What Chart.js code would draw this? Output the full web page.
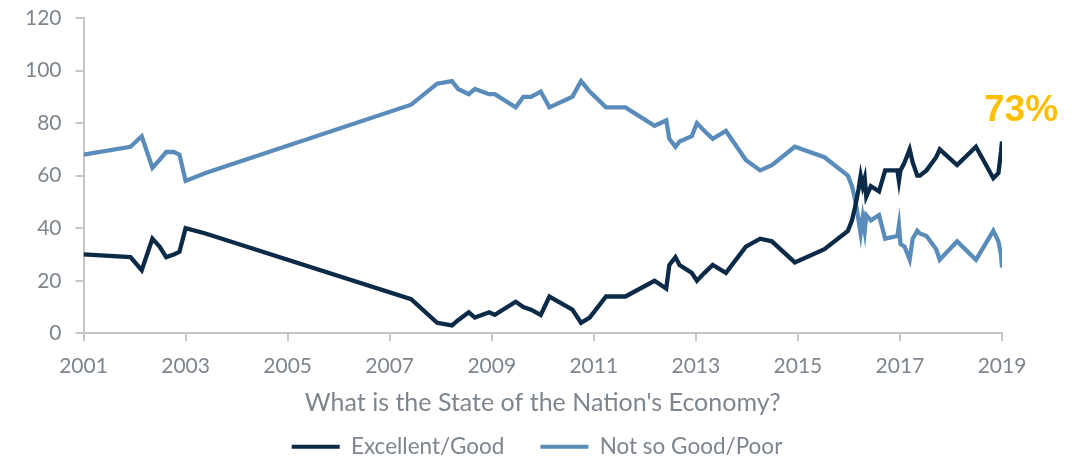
<!DOCTYPE html>
<html>
<head>
<meta charset="utf-8">
<script src="https://cdn.jsdelivr.net/npm/chart.js@4/dist/chart.umd.min.js"></script>
<style>
  html, body { margin: 0; padding: 0; background: #fff; }
  #wrap { width: 1074px; height: 457px; }
</style>
</head>
<body>
<div id="wrap"><canvas id="chart"></canvas></div>
<script>
// poll dates (decimal years) and shares in percent
const dates = [
  2001.0, 2001.92, 2002.14, 2002.35, 2002.49, 2002.62, 2002.77, 2002.88, 2003.0, 2003.39,
  2007.42, 2007.93, 2008.22, 2008.34, 2008.55, 2008.67, 2008.95, 2009.06, 2009.47, 2009.62,
  2009.77, 2009.96, 2010.13, 2010.58, 2010.75, 2010.92, 2011.24, 2011.62, 2012.19, 2012.42,
  2012.48, 2012.6, 2012.68, 2012.92, 2013.02, 2013.17, 2013.33, 2013.59, 2013.98, 2014.26,
  2014.49, 2014.94, 2015.52, 2015.98, 2016.06, 2016.12, 2016.19, 2016.23, 2016.27, 2016.31,
  2016.34, 2016.43, 2016.59, 2016.71, 2016.95, 2016.98, 2017.01, 2017.09, 2017.19, 2017.25,
  2017.34, 2017.39, 2017.52, 2017.71, 2017.78, 2018.12, 2018.49, 2018.83, 2018.93, 2018.98,
  2019.0
]
const excellentGood = [
  30, 29, 24, 36, 33, 29, 30, 31, 40, 38,
  13, 4, 3, 5, 8, 6, 8, 7, 12, 10,
  9, 7, 14, 9, 4, 6, 14, 14, 20, 17,
  26, 29, 26, 23, 20, 23, 26, 23, 33, 36,
  35, 27, 32, 39, 43, 48, 55, 60, 56, 59,
  52, 56, 54, 62, 62, 58, 62, 65, 70, 65,
  60, 60, 62, 67, 70, 64, 71, 59, 61, 69,
  73
]
const notSoGood = [
  68, 71, 75, 63, 66, 69, 69, 68, 58, 61,
  87, 95, 96, 93, 91, 93, 91, 91, 86, 90,
  90, 92, 86, 90, 96, 92, 86, 86, 79, 81,
  74, 71, 73, 75, 80, 77, 74, 77, 66, 62,
  64, 71, 67, 60, 56, 51, 43, 38, 44, 39,
  45, 43, 45, 36, 37, 41, 34, 33, 28, 36,
  39, 38, 37, 32, 28, 35, 28, 39, 35, 30,
  25
]
const xTicks = [2001, 2003, 2005, 2007, 2009, 2011, 2013, 2015, 2017, 2019]
const latestLabel = '73%'

const textGray = '#7d868e'
const axisGray = '#c6c6c6'
Chart.defaults.font.family = 'Lato'
Chart.defaults.color = textGray

const toPoints = vals => vals.map((v, i) => ({ x: dates[i], y: v }))

const latestNote = {
  id: 'latestNote',
  afterDatasetsDraw(chart) {
    const { ctx, scales } = chart
    const last = excellentGood.length - 1
    const px = scales.x.getPixelForValue(dates[last])
    const py = scales.y.getPixelForValue(excellentGood[last])
    ctx.save()
    ctx.font = 'bold 37px "Liberation Sans", Arial, sans-serif'
    ctx.fillStyle = '#ffbf00'
    ctx.textAlign = 'left'
    ctx.textBaseline = 'alphabetic'
    ctx.fillText(latestLabel, px - 18, py - 20)
    ctx.restore()
  }
}

// legend sits centred on the whole canvas, not on the plot area
const centerLegend = {
  id: 'centerLegend',
  afterLayout(chart) {
    const l = chart.legend
    if (!l) return
    const shift = chart.width / 2 - (l.left + l.right) / 2
    l.left += shift
    l.right += shift
  }
}

new Chart(document.getElementById('chart'), {
  type: 'line',
  data: {
    datasets: [{
      label: 'Excellent/Good',
      data: toPoints(excellentGood),
      borderColor: '#0b2a48',
      backgroundColor: '#0b2a48',
      borderWidth: 4.3,
      pointRadius: 0,
      tension: 0
    }, {
      label: 'Not so Good/Poor',
      data: toPoints(notSoGood),
      borderColor: '#5a8cbb',
      backgroundColor: '#5a8cbb',
      borderWidth: 4.3,
      pointRadius: 0,
      tension: 0
    }]
  },
  options: {
    responsive: true,
    maintainAspectRatio: false,
    animation: false,
    layout: { padding: { left: 11, right: 72, top: 0, bottom: -11 } },
    scales: {
      x: {
        type: 'linear',
        min: 2001,
        max: 2019,
        afterBuildTicks: axis => { axis.ticks = xTicks.map(v => ({ value: v })) },
        grid: { display: true, drawOnChartArea: false, drawTicks: true, tickLength: 8, color: axisGray, lineWidth: 2 },
        border: { color: axisGray, width: 2 },
        ticks: { font: { size: 21 }, padding: 12, maxRotation: 0, callback: v => String(v) },
        title: {
          display: true,
          text: "What is the State of the Nation's Economy?",
          font: { size: 25 },
          padding: { top: -3, bottom: -18 }
        }
      },
      y: {
        min: 0,
        max: 120,
        afterFit: s => { s.paddingTop = 18; s.paddingBottom = 10 },
        grid: { display: true, drawOnChartArea: false, drawTicks: true, tickLength: 8, color: axisGray, lineWidth: 2 },
        border: { color: axisGray, width: 2 },
        ticks: { stepSize: 20, font: { size: 21 }, padding: 14 }
      }
    },
    plugins: {
      legend: {
        position: 'bottom',
        labels: {
          font: { size: 22.5 },
          boxWidth: 48,
          boxHeight: 4,
          padding: 36,
          generateLabels: chart => Chart.defaults.plugins.legend.labels.generateLabels(chart)
            .map(l => ({ ...l, lineWidth: 0 }))
        }
      },
      tooltip: { enabled: false }
    }
  },
  plugins: [latestNote, centerLegend]
})
</script>
</body>
</html>
